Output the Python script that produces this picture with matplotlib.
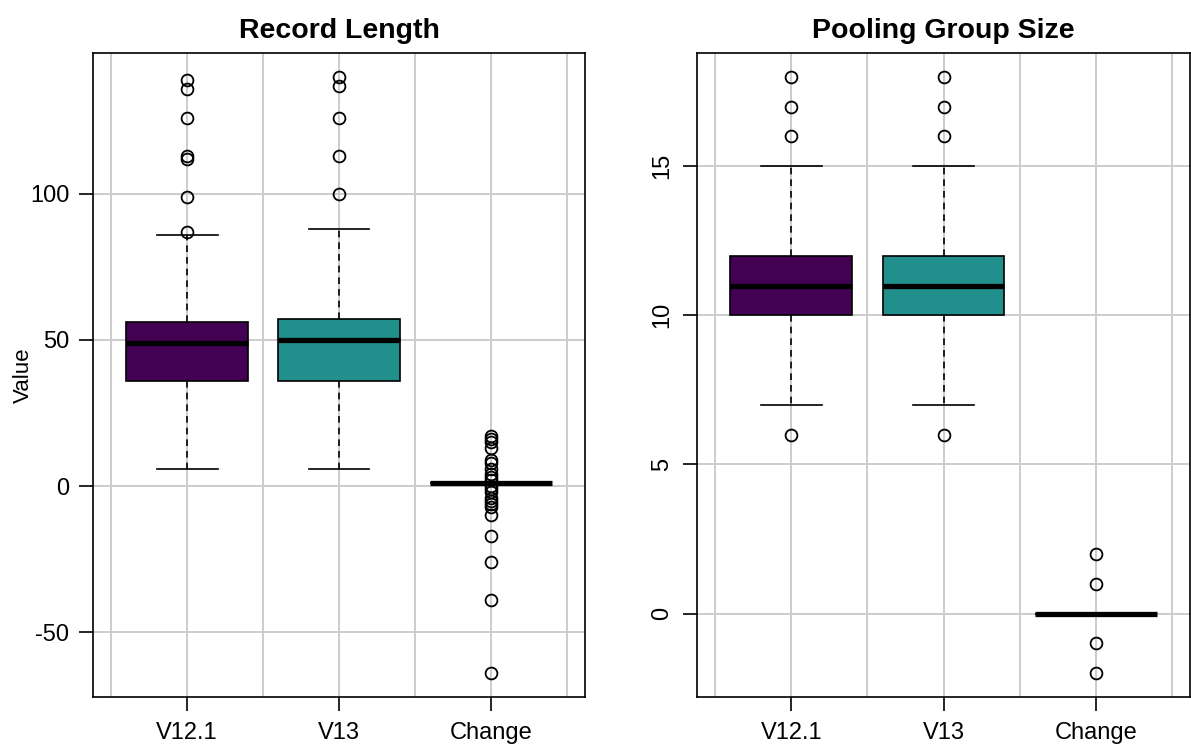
import numpy as np
import matplotlib
matplotlib.use("Agg")
import matplotlib.pyplot as plt
from matplotlib.ticker import MultipleLocator

plt.rcParams['font.family'] = ['Liberation Sans', 'DejaVu Sans']
plt.rcParams['axes.unicode_minus'] = False

categories = ["V12.1", "V13", "Change"]
colors = ["#440154", "#21908C", "#FDE725"]

# Record Length
rl_q1 = [36, 36, 1]
rl_med = [49, 50, 1]
rl_q3 = [56, 57, 1]
rl_whislo = [6, 6, 1]
rl_whishi = [86, 88, 1]
rl_fliers = [
    [87, 99, 112, 113, 126, 136, 139],
    [100, 113, 126, 137, 140],
    [17, 16, 15, 13, 9, 8, 6, 4, 3, 2, 0, -1, -2, -4, -5, -6, -7, -10, -17, -26, -39, -64],
]

# Pooling Group Size
pg_q1 = [10, 10, 0]
pg_med = [11, 11, 0]
pg_q3 = [12, 12, 0]
pg_whislo = [7, 7, 0]
pg_whishi = [15, 15, 0]
pg_fliers = [
    [6, 16, 17, 18],
    [6, 16, 17, 18],
    [-2, -1, 1, 2],
]

W, H = 1191, 746
fig = plt.figure(figsize=(W / 100, H / 100), dpi=100)


def make_stats(q1, med, q3, lo, hi, fl):
    return [dict(q1=q1[i], med=med[i], q3=q3[i], whislo=lo[i], whishi=hi[i],
                 fliers=fl[i], label=categories[i]) for i in range(len(categories))]


def panel(rect, stats, title, step, rotate_y):
    ax = fig.add_axes(rect)
    pos = np.arange(1, len(stats) + 1)
    b = ax.bxp(stats, positions=pos, widths=0.8, capwidths=0.4, patch_artist=True,
               boxprops=dict(edgecolor='black', linewidth=1.2),
               medianprops=dict(color='black', linewidth=3.8, solid_capstyle='butt'),
               whiskerprops=dict(color='black', linewidth=1.2, linestyle=(0, (4, 3))),
               capprops=dict(color='black', linewidth=1.2),
               flierprops=dict(marker='o', markerfacecolor='none', markeredgecolor='black',
                               markersize=8.5, markeredgewidth=1.3, linestyle='none'))
    for patch, c in zip(b['boxes'], colors):
        patch.set_facecolor(c)
        patch.set_zorder(2)
    for k in ('medians', 'whiskers', 'caps', 'fliers'):
        for a in b[k]:
            a.set_zorder(3)
    allv = []
    for s in stats:
        allv += [s['whislo'], s['whishi']] + list(s['fliers'])
    lo, hi = min(allv), max(allv)
    ext = (hi - lo) * 0.04
    ax.set_ylim(lo - ext, hi + ext)
    ax.set_xlim(0.5 - 0.12, len(stats) + 0.5 + 0.12)
    ax.set_xticks(pos)
    ax.set_xticklabels(categories)
    ax.xaxis.set_minor_locator(MultipleLocator(0.5))
    ax.yaxis.set_major_locator(MultipleLocator(step))
    ax.set_axisbelow(True)
    ax.grid(True, which='both', axis='x', color='#CCCCCC', linewidth=1.4, zorder=0)
    ax.grid(True, which='major', axis='y', color='#CCCCCC', linewidth=1.4, zorder=0)
    ax.tick_params(axis='both', which='major', length=10, width=1.2, direction='out',
                   labelsize=17, color='black')
    ax.tick_params(axis='x', which='minor', length=0)
    ax.tick_params(axis='x', which='major', pad=8)
    ax.tick_params(axis='y', which='major', pad=7)
    if rotate_y:
        for lab in ax.get_yticklabels():
            lab.set_rotation(90)
            lab.set_va('center')
    for sp in ax.spines.values():
        sp.set_linewidth(1.2)
        sp.set_color('black')
    ax.set_title(title, fontsize=20.5, fontweight='bold', pad=11)
    return ax


bottom = (H - 697) / H
height = (697 - 53) / H
ax1 = panel([93 / W, bottom, (585 - 93) / W, height],
            make_stats(rl_q1, rl_med, rl_q3, rl_whislo, rl_whishi, rl_fliers),
            "Record Length", 50, False)
ax2 = panel([697 / W, bottom, (1190 - 697) / W, height],
            make_stats(pg_q1, pg_med, pg_q3, pg_whislo, pg_whishi, pg_fliers),
            "Pooling Group Size", 5, True)

fig.text(23 / W, 1 - 375 / H, "Value", rotation=90, ha='center', va='center', fontsize=16)

fig.savefig("out.png", dpi=100)
